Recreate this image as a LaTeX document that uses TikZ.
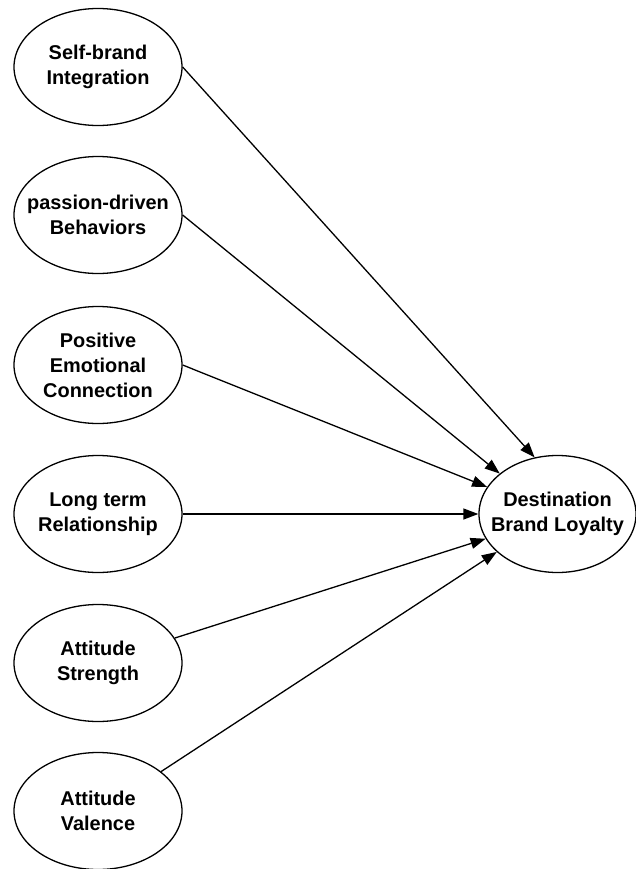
\documentclass[tikz,border=0pt]{standalone}
\usepackage{fontspec}
\setmainfont{Liberation Sans}
\usetikzlibrary{shapes.geometric,arrows.meta}
\begin{document}
\begin{tikzpicture}[x=1bp,y=-1bp,
  ell/.style={ellipse,draw,line width=1.3bp,minimum width=168bp,minimum height=117bp,inner xsep=-30bp,inner ysep=-20bp,align=center,font=\bfseries\fontsize{20}{25}\selectfont},
  arr/.style={line width=1.3bp,-{Triangle[length=15bp,width=11bp]}}]
\useasboundingbox (0,0) rectangle (636,869);
\node[ell] (a) at (98,67) {Self-brand\\Integration};
\node[ell] (b) at (98,215) {passion-driven\\Behaviors};
\node[ell] (c) at (98,365) {Positive\\Emotional\\Connection};
\node[ell] (d) at (98,514) {Long term\\Relationship};
\node[ell] (e) at (98,663) {Attitude\\Strength};
\node[ell] (f) at (98,811) {Attitude\\Valence};
\node[ell,minimum width=157bp] (g) at (557.5,514) {Destination\\Brand Loyalty};
\draw[arr] (a.east) -- (g.112);
\draw[arr] (b.east) -- (g.145);
\draw[arr] (c.east) -- (g.159);
\draw[arr] (d.east) -- (g.west);
\draw[arr] (e.18) -- (g.199);
\draw[arr] (f.32) -- (g.212);
\end{tikzpicture}
\end{document}
